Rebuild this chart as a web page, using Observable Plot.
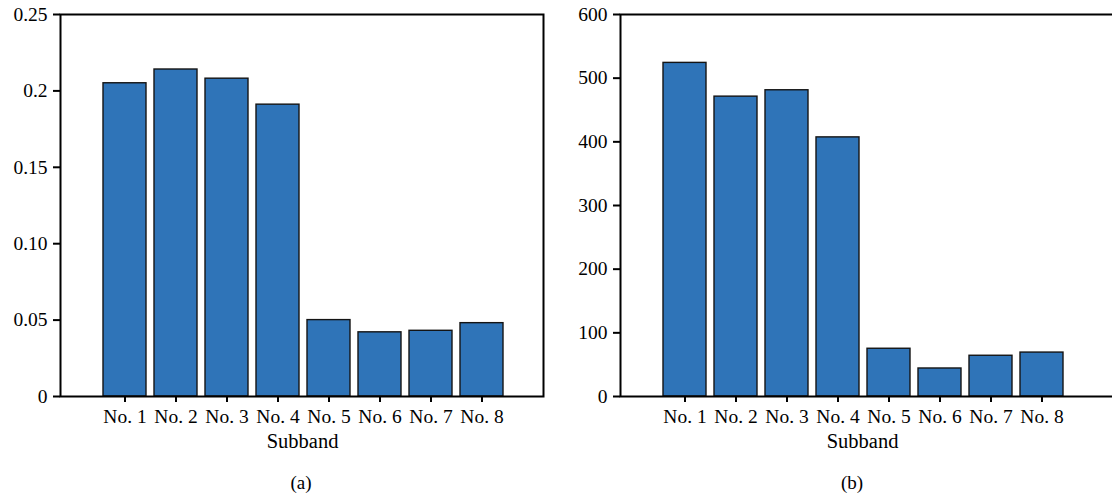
<!DOCTYPE html>
<html><head><meta charset="utf-8">
<script src="https://cdn.jsdelivr.net/npm/d3@7"></script>
<script src="https://cdn.jsdelivr.net/npm/@observablehq/plot@0.6"></script>
<style>
html,body{margin:0;padding:0;background:#fff;overflow:hidden;}
#wrap{position:relative;width:1112px;height:500px;overflow:hidden;font-family:"Liberation Serif",serif;}
.panel{position:absolute;top:0;}
.cap{position:absolute;font-size:19px;transform:translate(-50%,-50%);color:#000;white-space:nowrap;line-height:1;}
.cap.xl{font-size:20.5px;}
</style></head><body><div id="wrap"></div>
<script>
const subbands = ["No. 1","No. 2","No. 3","No. 4","No. 5","No. 6","No. 7","No. 8"];
const valuesA = [0.205,0.214,0.208,0.191,0.050,0.042,0.043,0.048];
const valuesB = [524,471,481,407,75,44,64,69];
const ticksA = [0,0.05,0.10,0.15,0.2,0.25];
const tickLabelsA = ["0","0.05","0.10","0.15","0.2","0.25"];
const ticksB = [0,100,200,300,400,500,600];
const tickLabelsB = ["0","100","200","300","400","500","600"];
const xLabel = "Subband";
const captions = ["(a)","(b)"];

const wrap = document.getElementById("wrap");

function panel({values, ticks, labels, max, left, width, marginLeft, marginRight, insetLeft, insetRight}) {
  const data = subbands.map((s,i)=>({s, v: values[i]}));
  const chart = Plot.plot({
    width, height: 460,
    marginTop: 14, marginBottom: 64, marginLeft, marginRight,
    style: {fontFamily: "Liberation Serif, serif", fontSize: "19.5px", color: "#000", background: "transparent", overflow: "visible"},
    x: {domain: subbands, paddingInner: 0.15, paddingOuter: 0.075, insetLeft, insetRight, label: null},
    y: {domain: [0, max], label: null},
    marks: [
      Plot.barY(data, {x: "s", y: "v", fill: "#2f74b8", stroke: "#141414", strokeWidth: 1.4}),
      Plot.frame({stroke: "#000", strokeWidth: 2}),
      Plot.axisY({ticks, tickFormat: d => labels[ticks.indexOf(d)], tickSize: 7, tickPadding: 6, strokeWidth: 2, label: null}),
      Plot.axisX({tickSize: 6, tickPadding: 7, strokeWidth: 2, label: null})
    ]
  });
  chart.classList.add("panel");
  chart.style.left = left + "px";
  wrap.appendChild(chart);
}

panel({values: valuesA, ticks: ticksA, labels: tickLabelsA, max: 0.25, left: 0, width: 556, marginLeft: 60, marginRight: 13, insetLeft: 37.6, insetRight: 34});
panel({values: valuesB, ticks: ticksB, labels: tickLabelsB, max: 600, left: 556, width: 560, marginLeft: 64, marginRight: 2, insetLeft: 37.6, insetRight: 45});

function cap(text, x, y, cls) {
  const d = document.createElement("div");
  d.className = "cap" + (cls ? " " + cls : "");
  d.textContent = text;
  d.style.left = x + "px";
  d.style.top = y + "px";
  wrap.appendChild(d);
}
cap(xLabel, 302.5, 441, "xl");
cap(xLabel, 862.5, 441, "xl");
cap(captions[0], 301, 482);
cap(captions[1], 852, 482);
</script></body></html>
